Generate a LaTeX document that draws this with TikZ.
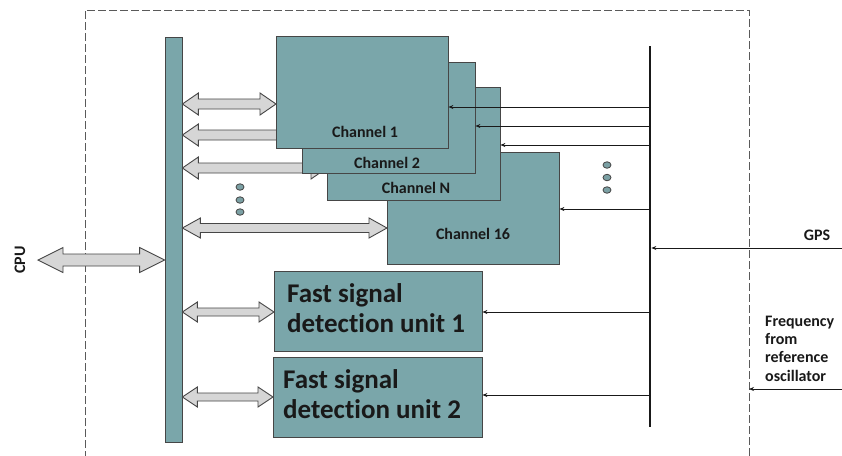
\documentclass[tikz,border=0pt]{standalone}
\usepackage{fontspec}
\setmainfont{Carlito}[Ligatures={NoCommon}]
\usetikzlibrary{arrows.meta,calc,shapes.geometric}
\definecolor{teal1}{RGB}{122,166,170}
\definecolor{edge}{RGB}{70,70,70}
\definecolor{ink}{RGB}{25,25,25}
\definecolor{arrfill}{RGB}{214,214,214}
\definecolor{frm}{RGB}{90,90,90}

% double block arrow between two points: #1 from, #2 to, #3 shaft half, #4 head half, #5 head length
\newcommand{\dblarr}[5]{%
  \draw[dblarrow] let \p1=(#1), \p2=(#2) in
    (\x1,\y1) -- (\x1+#5,\y1+#4) -- (\x1+#5,\y1+#3) -- (\x2-#5,\y1+#3)
    -- (\x2-#5,\y1+#4) -- (\x2,\y1) -- (\x2-#5,\y1-#4) -- (\x2-#5,\y1-#3)
    -- (\x1+#5,\y1-#3) -- (\x1+#5,\y1-#4) -- cycle;}

\begin{document}
\begin{tikzpicture}[x=1pt,y=-1pt,
  box/.style={draw=edge, line width=0.8pt, fill=teal1, inner sep=0pt, anchor=center},
  chlbl/.style={font=\bfseries\fontsize{16}{19}\selectfont, text=ink, inner sep=0pt},
  fastlbl/.style={font=\bfseries\fontsize{27}{30}\selectfont, text=ink, inner sep=0pt, align=left, anchor=west},
  extlbl/.style={font=\bfseries\fontsize{16}{18.3}\selectfont, text=ink, inner sep=0pt},
  dblarrow/.style={draw=edge, line width=0.9pt, fill=arrfill, line join=miter},
  sig/.style={draw=ink, line width=0.9pt, -{Stealth[length=5pt,width=4pt]}},
  dotnode/.style={ellipse, draw=edge, line width=0.8pt, fill=teal1!85!gray, minimum width=8pt, minimum height=6.5pt, inner sep=0pt},
  frame/.style={draw=frm, line width=0.8pt, dash pattern=on 8pt off 3pt}
]
\useasboundingbox (0,0) rectangle (842,455);
\fill[white] (0,0) rectangle (842,455);

% dashed frame (open at the bottom)
\coordinate (frameTL) at (85,10);
\coordinate (frameTR) at (749,10);
\draw[frame] (85,470) -- (frameTL) -- (frameTR) -- (749,470);

% bus bar
\node[box, minimum width=17pt, minimum height=405pt] (bar) at (173.5,239.5) {};

% CPU
\coordinate (cpuend) at (38,260);
\dblarr{cpuend}{bar.west |- cpuend}{6pt}{12.5pt}{25pt}
\node[extlbl, rotate=90] (cpu) at (20,260) {CPU};

% double arrows (drawn before boxes so that hidden ends are covered)
\dblarr{bar.east |- 0,104}{276,104}{5pt}{11pt}{16pt}
\dblarr{bar.east |- 0,135}{302,135}{5pt}{11pt}{16pt}
\dblarr{bar.east |- 0,168}{327,168}{5pt}{11pt}{16pt}
\dblarr{bar.east |- 0,228}{387,228}{4.5pt}{10pt}{18pt}
\dblarr{bar.east |- 0,312}{274,312}{4pt}{10pt}{15pt}
\dblarr{bar.east |- 0,397}{273,397}{4pt}{10pt}{15pt}

% channel boxes
\node[box, minimum width=172pt, minimum height=112pt] (ch16) at (473,208) {};
\node[box, minimum width=173pt, minimum height=113pt] (chN) at (413.5,143.5) {};
\node[box, minimum width=173pt, minimum height=111pt] (ch2) at (388.5,117.5) {};
\node[box, minimum width=172pt, minimum height=112pt] (ch1) at (362,92) {};
\node[chlbl] (l1) at (365,132) {Channel 1};
\node[chlbl] (l2) at (387,163) {Channel 2};
\node[chlbl] (lN) at (416,188) {Channel N};
\node[chlbl] (l16) at (473,234) {Channel 16};

% fast signal detection units
\node[box, minimum width=208pt, minimum height=80pt] (fast1) at (378,311) {};
\node[box, minimum width=209pt, minimum height=80pt] (fast2) at (377.5,397) {};
\node[fastlbl] (f1) at (287,308) {Fast signal\\detection unit 1};
\node[fastlbl] (f2) at (283,394) {Fast signal\\detection unit 2};

% dots
\node[dotnode] (dl1) at (240,187) {};
\node[dotnode] (dl2) at (240,200) {};
\node[dotnode] (dl3) at (240,212) {};
\node[dotnode] (dr1) at (607,165) {};
\node[dotnode] (dr2) at (607,177.5) {};
\node[dotnode] (dr3) at (607,190) {};

% distribution line
\coordinate (dtop) at (650,46);
\coordinate (dbot) at (650,427);
\draw[ink, line width=2.6pt] (dtop) -- (dbot);

% signal arrows
\draw[sig] (dtop |- 0,107) -- (ch1.east |- 0,107);
\draw[sig] (dtop |- 0,126) -- (ch2.east |- 0,126);
\draw[sig] (dtop |- 0,145) -- (chN.east |- 0,145);
\draw[sig] (dtop |- 0,209) -- (ch16.east |- 0,209);
\draw[sig] (dtop |- 0,312) -- (fast1.east |- 0,312);
\draw[sig] (dtop |- 0,395) -- (fast2.east |- 0,395);

% external inputs
\coordinate (gpsin) at (842,248);
\draw[sig] (gpsin) -- ([xshift=1.3pt]dtop |- gpsin);
\node[extlbl] (gps) at (817,235) {GPS};
\coordinate (freqin) at (842,389);
\draw[sig] (freqin) -- (frameTR |- freqin);
\node[extlbl, align=left, anchor=west] (freq) at (765,348.5) {Frequency\\from\\reference\\oscillator};
\end{tikzpicture}
\end{document}
